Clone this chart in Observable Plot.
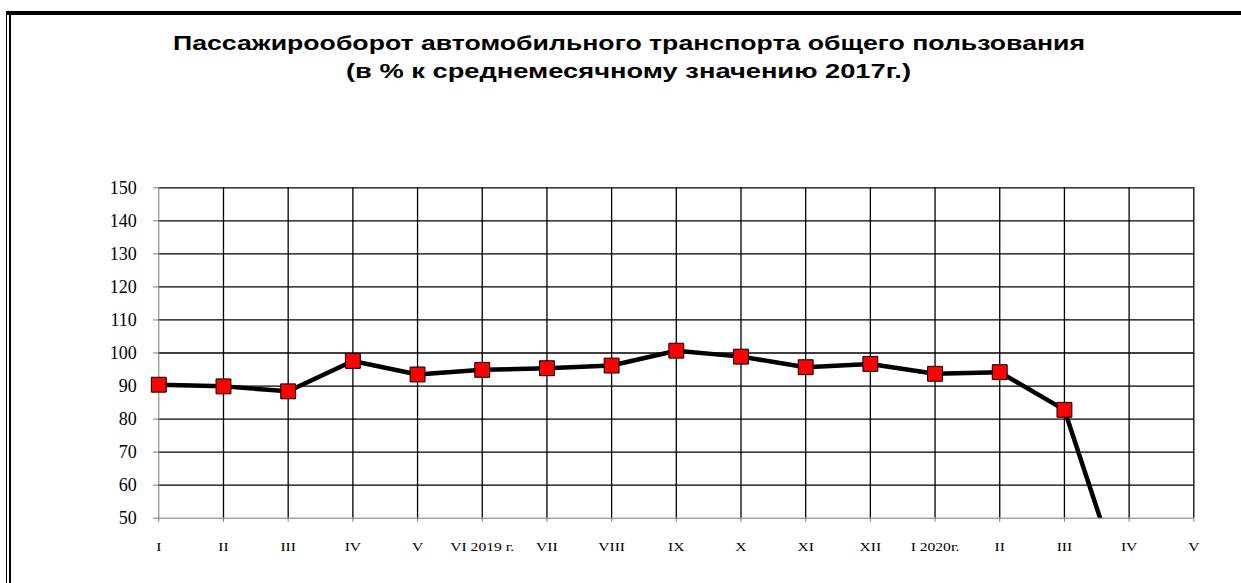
<!DOCTYPE html>
<html>
<head>
<meta charset="utf-8">
<script src="https://cdn.jsdelivr.net/npm/d3@7"></script>
<script src="https://cdn.jsdelivr.net/npm/@observablehq/plot@0.6"></script>
<style>
  html, body { margin: 0; padding: 0; background: #fff; overflow: hidden; }
  #wrap { width: 1241px; height: 583px; overflow: hidden; position: relative; }
  .frame1 { position: absolute; left: 6px; top: 11px; width: 1300px; height: 700px;
            border-left: 1.5px solid #000; border-top: 4px solid #000; }
  .frame2 { position: absolute; left: 9px; top: 15px; width: 1300px; height: 700px;
            border-left: 2.5px solid #000; }
  #title { position: relative; height: 100px; box-sizing: border-box; padding-top: 29px;
           font-family: "Liberation Sans", Arial, sans-serif; font-weight: bold; font-size: 20.5px;
           line-height: 28px; color: #000; width: 1241px; text-align: center; }
  #title .line { position: relative; height: 28px; }
  #title span { position: absolute; white-space: nowrap; transform-origin: 0 50%; }
  #chart { position: relative; }
</style>
</head>
<body>
<div id="wrap">
<div class="frame1"></div>
<div class="frame2"></div>
<div id="title"><div class="line"><span id="t1">Пассажирооборот автомобильного транспорта общего пользования</span></div><div class="line"><span id="t2">(в % к среднемесячному значению 2017г.)</span></div></div>
<div id="chart"></div>
</div>
<script>
// Month labels (Jan 2019 – May 2020)
const xLabels = ["I", "II", "III", "IV", "V", "VI 2019 г.", "VII", "VIII", "IX", "X", "XI", "XII", "I 2020г.", "II", "III", "IV", "V"];
// Passenger turnover, % of 2017 monthly average
const values = [90.4, 89.9, 88.4, 97.6, 93.5, 94.9, 95.4, 96.2, 100.7, 98.9, 95.7, 96.7, 93.7, 94.2, 82.8, 23.4];
const yTicks = [50, 60, 70, 80, 90, 100, 110, 120, 130, 140, 150];

const data = values.map((v, i) => ({i, v}));
const xIdx = xLabels.map((_, i) => i);

const plot = Plot.plot({
  width: 1241,
  height: 483,
  marginTop: 87.3,
  marginBottom: 65.3,
  marginLeft: 158.3,
  marginRight: 47.7,
  style: {background: "transparent", color: "#000"},
  x: {type: "linear", domain: [0, xLabels.length - 1]},
  y: {domain: [50, 150]},
  marks: [
    Plot.ruleY(yTicks.slice(1), {stroke: "#000", strokeWidth: 1.3}),
    Plot.ruleX(xIdx.slice(1), {y1: 50, y2: 150, stroke: "#000", strokeWidth: 1.3}),
    Plot.ruleX([0], {y1: 50, y2: 150, stroke: "#777", strokeWidth: 1}),
    Plot.ruleY([50], {stroke: "#777", strokeWidth: 1}),
    Plot.axisY({ticks: yTicks, tickSize: 5, tickPadding: 17, stroke: "#777", fill: "#000",
      fontSize: 18, fontFamily: "'Liberation Serif', 'Times New Roman', serif", label: null}),
    Plot.axisX({ticks: xIdx, tickFormat: i => xLabels[i], tickSize: 4, tickPadding: 20,
      stroke: "#777", fill: "#000", fontSize: 12,
      fontFamily: "'Liberation Serif', 'Times New Roman', serif", label: null}),
    Plot.line(data, {x: "i", y: "v", stroke: "#000", strokeWidth: 4.5, clip: true}),
    Plot.dot(data, {x: "i", y: "v", filter: d => d.v >= 50, symbol: "square", r: 8.4,
      fill: "#ff0000", stroke: "#000", strokeWidth: 1})
  ]
});
document.getElementById("chart").appendChild(plot);

// widen x tick labels horizontally as in the reference
d3.select(plot).selectAll('g[aria-label="x-axis tick label"] text').each(function() {
  const t = this.getAttribute("transform") || "";
  this.setAttribute("transform", t + " scale(1.3,1)");
});

// stretch title lines to the reference widths, centred at x≈629
function fit(id, left, right) {
  const el = document.getElementById(id);
  const w = el.getBoundingClientRect().width;
  const k = (right - left) / w;
  el.style.left = left + "px";
  el.style.top = "0px";
  el.style.transform = `scaleX(${k})`;
}
fit("t1", 173, 1085);
fit("t2", 346, 911);
</script>
</body>
</html>
